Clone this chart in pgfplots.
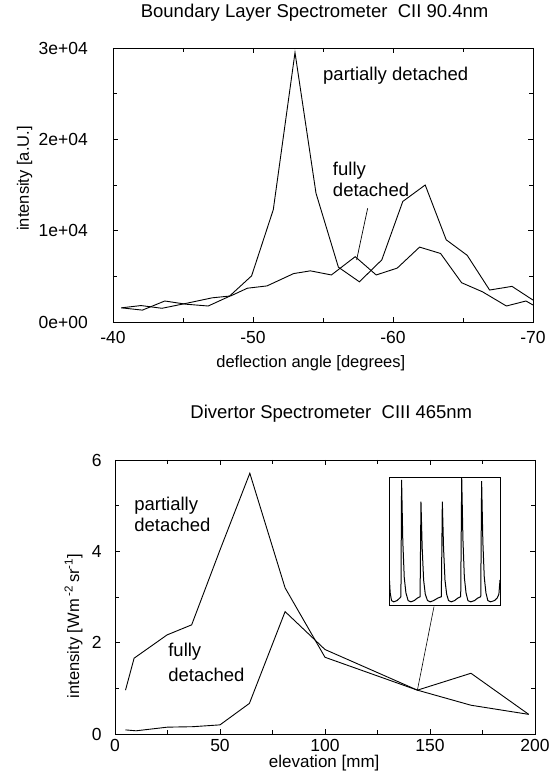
\documentclass[border=0pt]{standalone}
\usepackage{fontspec}
\setmainfont{Liberation Sans}
\usepackage{pgfplots}
\pgfplotsset{compat=1.18}
\begin{document}
\begin{tikzpicture}
\useasboundingbox (0pt,0pt) rectangle (555pt,784pt);
\pgfplotsset{
  myax/.style={
    scale only axis, width=420pt, height=274pt,
    axis line style={line width=0.9pt, black},
    every tick/.style={line width=0.8pt, black},
    major tick length=5pt, minor tick length=4pt,
    tick align=inside,
    ticklabel style={font=\fontsize{17.5}{20}\selectfont},
    label style={font=\fontsize{16.5}{20}\selectfont},
    title style={font=\fontsize{18.5}{22}\selectfont},
  },
  dataline/.style={black, line width=0.9pt, mark=none},
}
% ---------------- top axis ----------------
\begin{axis}[myax,
  at={(113pt,462pt)}, anchor=south west,
  x dir=reverse, xmin=-70, xmax=-40, ymin=0, ymax=30000,
  xtick={-70,-60,-50,-40}, xticklabels={-70,-60,-50,-40},
  minor xtick={-65,-55,-45},
  ytick={0,10000,20000,30000}, yticklabels={0e+00,1e+04,2e+04,3e+04},
  minor ytick={5000,15000,25000},
  scaled y ticks=false,
  xticklabel style={anchor=base, yshift=-22pt},
  yticklabel style={anchor=east, inner sep=0pt, xshift=-25pt},
  xlabel={deflection angle [degrees]},
  xlabel style={at={(axis description cs:0.471,0)}, anchor=base, yshift=-46pt},
  ylabel={intensity [a.U.]},
  ylabel style={at={(axis description cs:-0.2,0.524)}, anchor=base, rotate=0},
  title={Boundary Layer Spectrometer\ \ CII 90.4nm},
  title style={at={(axis description cs:0.48,1)}, anchor=base, yshift=24pt},
]
% partially detached
\addplot[dataline] coordinates {
(-40.6,1550) (-42.1,1300) (-43.7,2300) (-45.2,1950) (-46.8,1750) (-48.3,2800)
(-49.9,5050) (-51.45,12300) (-53.0,29500) (-54.5,14100) (-56.1,6000) (-57.6,4400)
(-59.2,6800) (-60.7,13200) (-62.3,15000) (-63.8,9000) (-65.3,7300) (-66.9,3500)
(-68.5,3900) (-70.0,2400)};
% fully detached
\addplot[dataline] coordinates {
(-40.6,1550) (-42.0,1800) (-43.5,1500) (-45.1,2000) (-47.1,2650) (-48.4,2850)
(-49.6,3700) (-51.0,3950) (-52.9,5300) (-54.1,5600) (-55.6,5150) (-57.3,7150)
(-58.8,5150) (-60.3,5900) (-61.9,8200) (-63.4,7500) (-64.9,4300) (-66.4,3300)
(-68.1,1750) (-69.5,2300) (-70.0,1860)};
\node[anchor=base west, inner sep=0pt, font=\fontsize{18.5}{22}\selectfont] at (axis cs:-55.0,26400) {partially detached};
\node[anchor=base west, inner sep=0pt, font=\fontsize{18.5}{22}\selectfont] at (axis cs:-55.7,16000) {fully};
\node[anchor=base west, inner sep=0pt, font=\fontsize{18.5}{22}\selectfont] at (axis cs:-55.7,13700) {detached};
\draw[line width=0.7pt] (axis cs:-58.19,12450) -- (axis cs:-57.4,6790);
\end{axis}
% ---------------- bottom axis ----------------
\begin{axis}[myax,
  at={(115pt,50pt)}, anchor=south west,
  xmin=0, xmax=200, ymin=0, ymax=6,
  xtick={0,50,100,150,200}, xticklabels={0,50,100,150,200},
  minor xtick={25,75,125,175},
  ytick={0,2,4,6}, yticklabels={0,2,4,6},
  minor ytick={1,3,5},
  xticklabel style={anchor=base, yshift=-17.7pt},
  yticklabel style={anchor=east, inner sep=0pt, xshift=-13.3pt},
  xlabel={elevation [mm]},
  xlabel style={at={(axis description cs:0.498,0)}, anchor=base, yshift=-33.5pt, font=\fontsize{17}{20}\selectfont},
  ylabel={intensity [Wm\,\textsuperscript{-2}\,sr\textsuperscript{-1}]},
  ylabel style={at={(axis description cs:-0.0857,0.394)}, anchor=base, rotate=0},
  title={Divertor Spectrometer\ \ CIII 465nm},
  title style={at={(axis description cs:0.515,1)}, anchor=base, yshift=35pt},
]
% partially detached
\addplot[dataline] coordinates {
(5,0.96) (9.1,1.66) (24.8,2.17) (36.5,2.39) (50,4.03) (64.2,5.71) (81,3.2)
(100,1.68) (144,0.96) (169.5,0.63) (197,0.43)};
% fully detached
\addplot[dataline] coordinates {
(5,0.09) (10,0.07) (25,0.15) (37,0.16) (50,0.2) (64,0.67) (81,2.68)
(100,1.85) (144,0.96) (169.5,1.33) (197,0.43)};
\node[anchor=base west, inner sep=0pt, font=\fontsize{18.5}{22}\selectfont] at (axis cs:9.1,4.89) {partially};
\node[anchor=base west, inner sep=0pt, font=\fontsize{18.5}{22}\selectfont] at (axis cs:9.1,4.43) {detached};
\node[anchor=base west, inner sep=0pt, font=\fontsize{18.5}{22}\selectfont] at (axis cs:25.3,1.69) {fully};
\node[anchor=base west, inner sep=0pt, font=\fontsize{18.5}{22}\selectfont] at (axis cs:25.3,1.14) {detached};
\draw[line width=0.6pt] (axis cs:151.9,2.79) -- (axis cs:144,0.96);
\end{axis}
% ---------------- inset ----------------
\begin{axis}[
  at={(389.3pt,178.3pt)}, anchor=south west,
  scale only axis, width=110.7pt, height=128.4pt,
  xmin=0, xmax=1, ymin=0, ymax=1,
  xtick=\empty, ytick=\empty,
  axis line style={line width=0.9pt, black},
]
\addplot[black, line width=1.0pt, mark=none] coordinates {
(0.000,0.22) (0.008,0.10) (0.02,0.04) (0.04,0.03) (0.07,0.04) (0.095,0.06) (0.105,0.07)
(0.111,0.98) (0.122,0.50) (0.135,0.22) (0.15,0.10) (0.17,0.04) (0.195,0.03) (0.225,0.04) (0.255,0.06) (0.278,0.07)
(0.286,0.81) (0.297,0.45) (0.31,0.20) (0.325,0.09) (0.345,0.04) (0.37,0.03) (0.40,0.04) (0.44,0.06) (0.47,0.07)
(0.479,0.81) (0.49,0.45) (0.503,0.20) (0.518,0.09) (0.535,0.04) (0.56,0.03) (0.59,0.04) (0.62,0.06) (0.645,0.07)
(0.654,1.00) (0.665,0.52) (0.678,0.22) (0.693,0.10) (0.71,0.04) (0.735,0.03) (0.77,0.04) (0.80,0.06) (0.826,0.07)
(0.834,0.97) (0.845,0.50) (0.858,0.22) (0.873,0.10) (0.89,0.04) (0.915,0.03) (0.95,0.04) (0.975,0.06) (0.99,0.09) (1.0,0.2)};
\end{axis}
\end{tikzpicture}
\end{document}
